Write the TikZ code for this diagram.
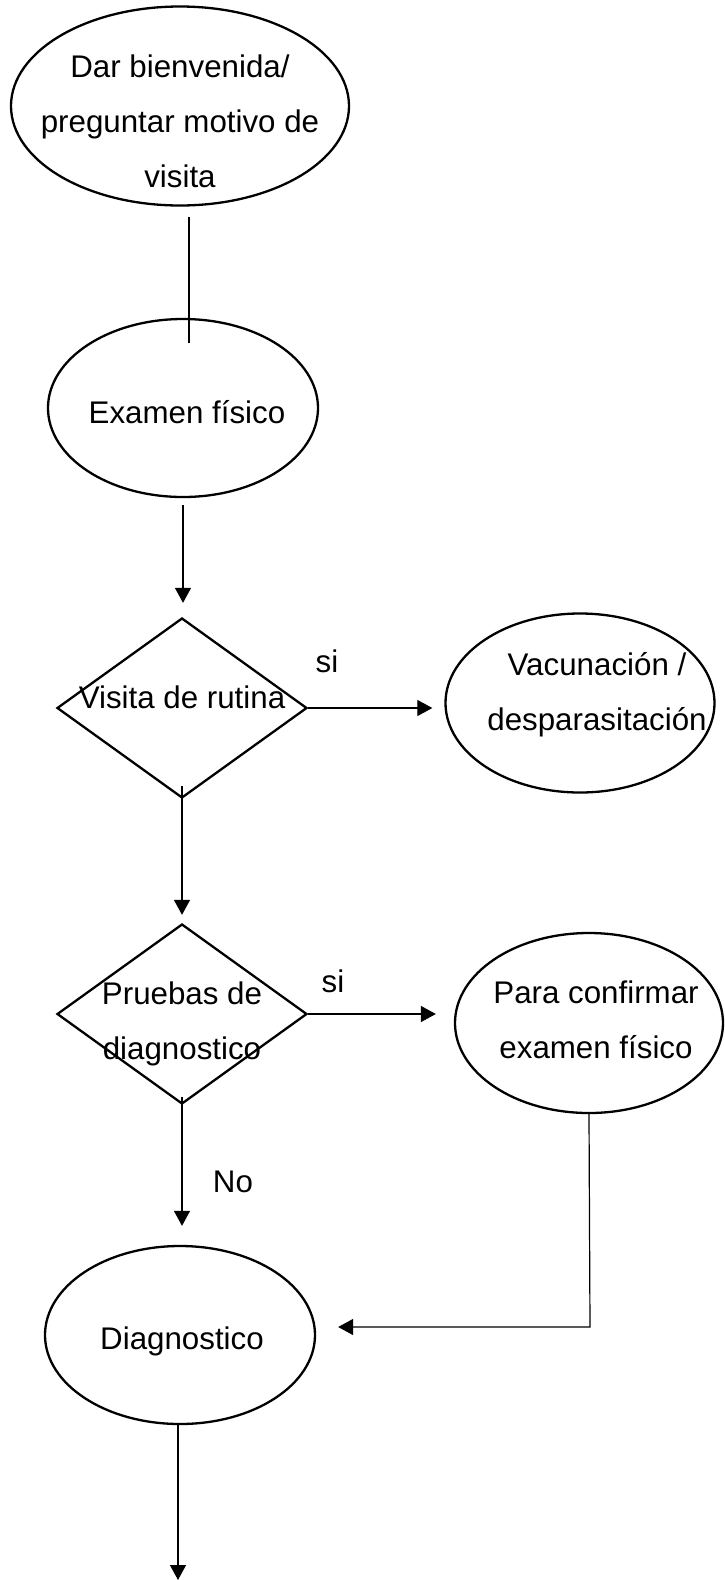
\documentclass[tikz,border=0pt]{standalone}
\usepackage{fontspec}
\setmainfont{Liberation Sans}
\usetikzlibrary{arrows.meta, shapes.geometric}

\begin{document}
\begin{tikzpicture}
  [x=1pt, y=-1pt,
   proceso/.style={ellipse, draw, line width=2.3pt, inner sep=0pt,
                   minimum width=270pt, minimum height=178pt},
   decision/.style={diamond, draw, line width=2.3pt, inner sep=0pt,
                    minimum width=250pt, minimum height=180pt},
   texto/.style={inner sep=0pt, align=center, anchor=base,
                 font=\fontsize{31.3}{55}\selectfont},
   flecha/.style={-{Triangle[length=15pt,width=16pt]}, line width=1.2pt},
   linea/.style={line width=1.2pt}]

  \useasboundingbox (0,0) rectangle (724,1580);

  % Nodos
  \node (welcome) at (180,106) [proceso, minimum width=338pt, minimum height=199pt] {};
  \node (welcometxt) at (180,187) [texto] {Dar bienvenida/\\preguntar motivo de\\visita};
  \node (exam) at (183,408) [proceso] {};
  \node (examtxt) at (187,423) [texto] {Examen físico};
  \node (rutina) at (182,708) [decision] {};
  \node (rutinatxt) at (182,708) [texto] {Visita de rutina};
  \node (vacuna) at (580,703) [proceso, minimum width=269pt, minimum height=179pt] {};
  \node (vacunatxt) at (597,730) [texto] {Vacunación /\\desparasitación};
  \node (pruebas) at (182,1014) [decision] {};
  \node (pruebastxt) at (182,1059) [texto] {Pruebas de\\diagnostico};
  \node (confirma) at (589,1023) [proceso, minimum width=268pt, minimum height=180pt] {};
  \node (confirmatxt) at (596,1058) [texto] {Para confirmar\\examen físico};
  \node (diag) at (180,1335) [proceso] {};
  \node (diagtxt) at (182,1349) [texto] {Diagnostico};

  % Etiquetas
  \node (si1) at (327,672) [texto] {si};
  \node (si2) at (333,992) [texto] {si};
  \node (no) at (233,1192) [texto] {No};

  \coordinate (codo) at (590,1327);
  \coordinate (fin) at (178,1580);

  % Conectores
  \draw [linea] ([xshift=9pt,yshift=-10pt]welcome.south)
    -- ([xshift=6pt,yshift=-25pt]exam.north);
  \draw [flecha, shorten <=7pt, shorten >=14pt] (exam.south) -- (exam.south |- rutina.north);
  \draw [flecha, shorten >=12pt] (rutina.east) -- (rutina.east -| vacuna.west);
  \draw [flecha, shorten >=8pt] ([yshift=13pt]rutina.south) -- (pruebas.north);
  \draw [flecha, shorten >=18pt] (pruebas.east) -- (pruebas.east -| confirma.west);
  \draw [flecha, shorten >=19pt] ([yshift=8pt]pruebas.south) -- (pruebas.south |- diag.north);
  \draw [flecha, shorten >=22pt] (confirma.south) -- (codo) -- (codo -| diag.east);
  \draw [flecha] ([xshift=-2pt]diag.south) -- (fin);

\end{tikzpicture}
\end{document}
